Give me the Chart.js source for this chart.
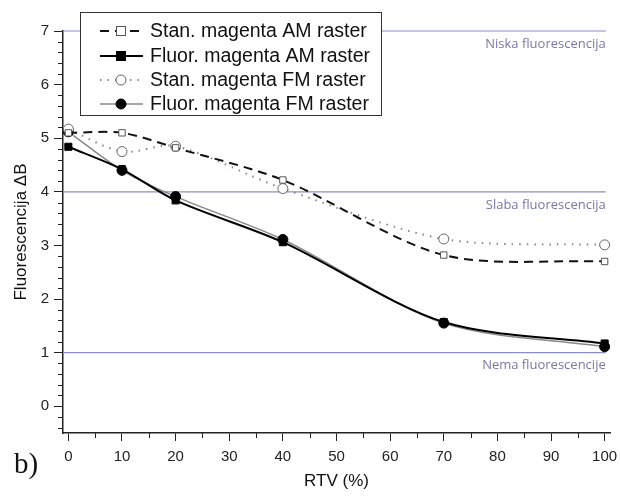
<!DOCTYPE html>
<html>
<head>
<meta charset="utf-8">
<script src="https://cdn.jsdelivr.net/npm/chart.js@4.4.1/dist/chart.umd.min.js"></script>
<style>
  body { margin: 0; background: #fff; }
  #wrap { position: relative; width: 620px; height: 496px; }
  #lbl { position: absolute; left: 14px; top: 447px; font-family: "Liberation Serif", serif; font-size: 29px; color: #111; }
</style>
</head>
<body>
<div id="wrap">
  <canvas id="graf" width="620" height="496"></canvas>
  <div id="lbl">b)</div>
</div>
<script>
// --- données ---
const rtv = [0, 10, 20, 40, 70, 100];
const stanAM = [5.10, 5.10, 4.82, 4.22, 2.82, 2.70];
const fluorAM = [4.84, 4.42, 3.84, 3.06, 1.57, 1.17];
const stanFM = [5.17, 4.75, 4.85, 4.06, 3.12, 3.01];
const fluorFM = [5.12, 4.40, 3.91, 3.11, 1.55, 1.11];
const seriesNames = ['Stan. magenta AM raster', 'Fluor. magenta AM raster', 'Stan. magenta FM raster', 'Fluor. magenta FM raster'];

const xTicks = [0, 10, 20, 30, 40, 50, 60, 70, 80, 90, 100];
const yTicks = [0, 1, 2, 3, 4, 5, 6, 7];
const xMinor = [5, 15, 25, 35, 45, 55, 65, 75, 85, 95];
const yMinor = [-0.4, -0.2, 0.2, 0.4, 0.6, 0.8, 1.2, 1.4, 1.6, 1.8, 2.2, 2.4, 2.6, 2.8, 3.2, 3.4, 3.6, 3.8, 4.2, 4.4, 4.6, 4.8, 5.2, 5.4, 5.6, 5.8, 6.2, 6.4, 6.6, 6.8];

const refLevels = [7, 4, 1];
const refLabels = ['Niska fluorescencija', 'Slaba fluorescencija', 'Nema fluorescencije'];
const refStart = -1, refEnd = 100.2;

const pts = vals => vals.map((v, i) => ({ x: rtv[i], y: v }));

const refColor = '#8c8cc6';
const axisColor = '#222';

const datasets = [
    { label: seriesNames[0], data: pts(stanAM), borderColor: '#111', borderWidth: 2, borderDash: [9, 6],
      pointStyle: 'rect', pointRadius: 4.5, pointBackgroundColor: '#fff', pointBorderColor: '#555', pointBorderWidth: 1, tension: 0.3 },
    { label: seriesNames[1], data: pts(fluorAM), borderColor: '#000', borderWidth: 2, borderDash: [],
      pointStyle: 'rect', pointRadius: 5, pointBackgroundColor: '#000', pointBorderColor: '#000', pointBorderWidth: 1, tension: 0.3 },
    { label: seriesNames[2], data: pts(stanFM), borderColor: '#8a8a8a', borderWidth: 2, borderDash: [1.5, 6],
      pointStyle: 'circle', pointRadius: 5, pointBackgroundColor: '#fff', pointBorderColor: '#666', pointBorderWidth: 1, tension: 0.3 },
    { label: seriesNames[3], data: pts(fluorFM), borderColor: '#888', borderWidth: 1.5, borderDash: [],
      pointStyle: 'circle', pointRadius: 5, pointBackgroundColor: '#000', pointBorderColor: '#000', pointBorderWidth: 1, tension: 0.3 }
];

// lignes de référence (derrière les séries)
refLevels.forEach(lv => {
    datasets.push({ label: '', data: [{ x: refStart, y: lv }, { x: refEnd, y: lv }], borderColor: refColor,
        borderWidth: 1.2, pointRadius: 0, tension: 0, clip: false });
});

// petites graduations + textes des niveaux + légende encadrée
const decoPlugin = {
    id: 'deco',
    afterDatasetsDraw(chart) {
        const ctx = chart.ctx;
        const xs = chart.scales.x, ys = chart.scales.y;
        const area = chart.chartArea;
        ctx.save();
        ctx.strokeStyle = axisColor;
        ctx.lineWidth = 1;
        ctx.beginPath();
        yMinor.forEach(v => {
            const y = Math.round(ys.getPixelForValue(v)) + 0.5;
            ctx.moveTo(area.left - 5, y); ctx.lineTo(area.left, y);
        });
        xMinor.forEach(v => {
            const x = Math.round(xs.getPixelForValue(v)) + 0.5;
            ctx.moveTo(x, area.bottom); ctx.lineTo(x, area.bottom + 5);
        });
        ctx.stroke();

        // textes des niveaux
        ctx.fillStyle = '#7878aa';
        ctx.font = '13px "Open Sans"';
        ctx.textAlign = 'right';
        ctx.textBaseline = 'middle';
        refLevels.forEach((lv, i) => {
            ctx.fillText(refLabels[i], xs.getPixelForValue(refEnd), ys.getPixelForValue(lv) + 13);
        });

        // légende
        const bx = 80, by = 12, bw = 301, bh = 103;
        ctx.fillStyle = '#fff';
        ctx.fillRect(bx, by, bw, bh);
        ctx.strokeStyle = '#333';
        ctx.lineWidth = 1;
        ctx.strokeRect(bx + 0.5, by + 0.5, bw, bh);
        const rows = [31, 56, 80, 104];
        ctx.font = '19.5px "Liberation Sans"';
        ctx.textAlign = 'left';
        for (let i = 0; i < 4; i++) {
            const ds = datasets[i];
            const y = rows[i];
            ctx.strokeStyle = ds.borderColor;
            ctx.lineWidth = ds.borderWidth;
            ctx.setLineDash(ds.borderDash);
            ctx.beginPath();
            ctx.moveTo(100, y); ctx.lineTo(143, y);
            ctx.stroke();
            ctx.setLineDash([]);
            ctx.fillStyle = ds.pointBackgroundColor;
            ctx.strokeStyle = ds.pointBorderColor;
            ctx.lineWidth = 1;
            if (ds.pointStyle === 'rect') {
                ctx.fillRect(116, y - 5, 10, 10);
                ctx.strokeRect(116.5, y - 4.5, 9, 9);
            } else {
                ctx.beginPath();
                ctx.arc(121, y, 5, 0, Math.PI * 2);
                ctx.fill(); ctx.stroke();
            }
            ctx.fillStyle = '#111';
            ctx.fillText(seriesNames[i], 150, y + 1);
        }
        ctx.restore();
    }
};

const tickFont = { family: '"Liberation Sans"', size: 15 };

new Chart(document.getElementById('graf').getContext('2d'), {
    type: 'line',
    data: { datasets: datasets },
    options: {
        responsive: false,
        animation: false,
        layout: { padding: { top: 31, right: 10, left: 0, bottom: 0 } },
        plugins: { legend: { display: false }, tooltip: { enabled: false } },
        scales: {
            x: {
                type: 'linear', min: -1, max: 101,
                afterBuildTicks: s => { s.ticks = xTicks.map(v => ({ value: v })); },
                afterFit: s => { s.height = 63; s.paddingLeft = 0; s.paddingRight = 0; },
                grid: { drawOnChartArea: false, tickLength: 8, tickColor: axisColor },
                border: { color: axisColor, width: 1.5 },
                ticks: { font: tickFont, color: '#222', padding: 7, maxRotation: 0 },
                title: { display: true, text: 'RTV (%)', font: { family: '"Liberation Sans"', size: 17 }, color: '#111', padding: { top: 5 } }
            },
            y: {
                type: 'linear', min: -0.5, max: 7,
                afterBuildTicks: s => { s.ticks = yTicks.map(v => ({ value: v })); },
                afterFit: s => { s.width = 63; s.paddingTop = 0; s.paddingBottom = 0; },
                grid: { drawOnChartArea: false, tickLength: 9, tickColor: axisColor },
                border: { color: axisColor, width: 1.5 },
                ticks: { font: tickFont, color: '#222', padding: 5 },
                title: { display: true, text: 'Fluorescencija \u0394B', font: { family: '"Liberation Sans"', size: 17 }, color: '#111', padding: { bottom: 0, top: 11 } }
            }
        }
    },
    plugins: [decoPlugin]
});
</script>
</body>
</html>
